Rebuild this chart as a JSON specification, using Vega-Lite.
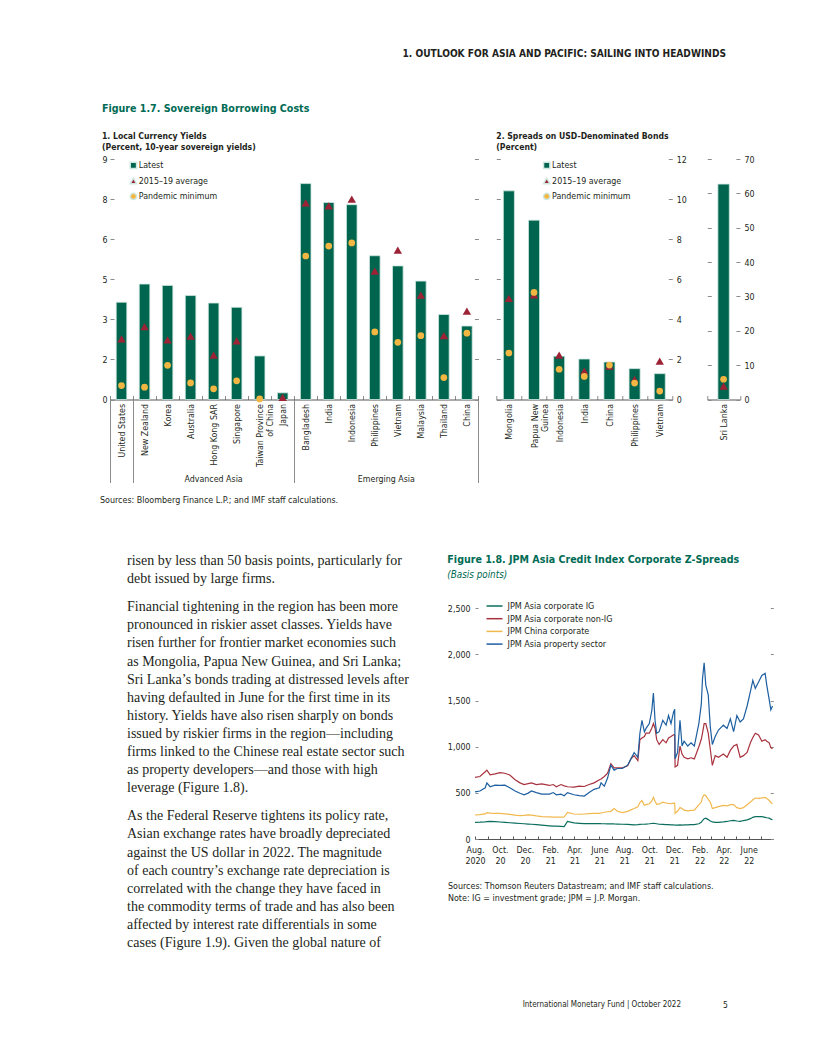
{
  "$schema": "https://vega.github.io/schema/vega-lite/v6.json",
  "padding": {"left": 100, "top": 48, "right": 10, "bottom": 10},
  "config": {
    "font": "Liberation Sans Narrow, DejaVu Sans Condensed, Liberation Sans, sans-serif",
    "view": {"stroke": null},
    "axis": {"labelFont": "Liberation Sans Narrow, DejaVu Sans Condensed, Liberation Sans, sans-serif", "labelFontSize": 8.8, "labelColor": "#231f20", "tickColor": "#8c8c8c", "tickWidth": 1, "domainColor": "#555555", "domainWidth": 1, "grid": false},
    "legend": {"labelFont": "Liberation Sans Narrow, DejaVu Sans Condensed, Liberation Sans, sans-serif", "labelFontSize": 8.8, "labelColor": "#231f20", "padding": 0, "rowPadding": 2.5, "labelOffset": 1},
    "title": {"font": "Liberation Sans Narrow, DejaVu Sans Condensed, Liberation Sans, sans-serif", "subtitleFont": "Liberation Sans Narrow, DejaVu Sans Condensed, Liberation Sans, sans-serif", "anchor": "start", "color": "#231f20", "subtitleColor": "#231f20", "fontWeight": "bold"}
  },
  "datasets": {
    "p1": [
      {"country": "United States", "Latest": 3.64, "2015–19 average": 2.27, "Pandemic minimum": 0.52},
      {"country": "New Zealand", "Latest": 4.32, "2015–19 average": 2.73, "Pandemic minimum": 0.46},
      {"country": "Korea", "Latest": 4.27, "2015–19 average": 2.23, "Pandemic minimum": 1.28},
      {"country": "Australia", "Latest": 3.89, "2015–19 average": 2.37, "Pandemic minimum": 0.62},
      {"country": "Hong Kong SAR", "Latest": 3.61, "2015–19 average": 1.66, "Pandemic minimum": 0.4},
      {"country": "Singapore", "Latest": 3.45, "2015–19 average": 2.19, "Pandemic minimum": 0.7},
      {"country": "Taiwan Province of China", "Latest": 1.63, "Pandemic minimum": 0.02},
      {"country": "Japan", "Latest": 0.25, "2015–19 average": 0.08},
      {"country": "Bangladesh", "Latest": 8.08, "2015–19 average": 7.36, "Pandemic minimum": 5.37},
      {"country": "India", "Latest": 7.37, "2015–19 average": 7.25, "Pandemic minimum": 5.74},
      {"country": "Indonesia", "Latest": 7.29, "2015–19 average": 7.5, "Pandemic minimum": 5.86},
      {"country": "Philippines", "Latest": 5.38, "2015–19 average": 4.8, "Pandemic minimum": 2.53},
      {"country": "Vietnam", "Latest": 5.0, "2015–19 average": 5.59, "Pandemic minimum": 2.14},
      {"country": "Malaysia", "Latest": 4.43, "2015–19 average": 3.91, "Pandemic minimum": 2.39},
      {"country": "Thailand", "Latest": 3.18, "2015–19 average": 2.39, "Pandemic minimum": 0.82},
      {"country": "China", "Latest": 2.75, "2015–19 average": 3.31, "Pandemic minimum": 2.48}
    ],
    "p2": [
      {"country": "Mongolia", "Latest": 10.41, "2015–19 average": 5.05, "Pandemic minimum": 2.32},
      {"country": "Papua New Guinea", "Latest": 8.95, "2015–19 average": 5.22, "Pandemic minimum": 5.34},
      {"country": "Indonesia", "Latest": 2.16, "2015–19 average": 2.22, "Pandemic minimum": 1.51},
      {"country": "India", "Latest": 2.02, "2015–19 average": 1.42, "Pandemic minimum": 1.15},
      {"country": "China", "Latest": 1.87, "2015–19 average": 1.66, "Pandemic minimum": 1.72},
      {"country": "Philippines", "Latest": 1.54, "2015–19 average": 1.0, "Pandemic minimum": 0.82},
      {"country": "Vietnam", "Latest": 1.29, "2015–19 average": 1.92, "Pandemic minimum": 0.42}
    ],
    "lk": [
      {"country": "Sri Lanka", "Latest": 62.7, "2015–19 average": 3.9, "Pandemic minimum": 5.9}
    ],
    "body": [
      {"para": 0, "line": 0, "text": "risen by less than 50 basis points, particularly for"},
      {"para": 0, "line": 1, "text": "debt issued by large firms."},
      {"para": 1, "line": 2, "text": "Financial tightening in the region has been more"},
      {"para": 1, "line": 3, "text": "pronounced in riskier asset classes. Yields have"},
      {"para": 1, "line": 4, "text": "risen further for frontier market economies such"},
      {"para": 1, "line": 5, "text": "as Mongolia, Papua New Guinea, and Sri Lanka;"},
      {"para": 1, "line": 6, "text": "Sri Lanka’s bonds trading at distressed levels after"},
      {"para": 1, "line": 7, "text": "having defaulted in June for the first time in its"},
      {"para": 1, "line": 8, "text": "history. Yields have also risen sharply on bonds"},
      {"para": 1, "line": 9, "text": "issued by riskier firms in the region—including"},
      {"para": 1, "line": 10, "text": "firms linked to the Chinese real estate sector such"},
      {"para": 1, "line": 11, "text": "as property developers—and those with high"},
      {"para": 1, "line": 12, "text": "leverage (Figure 1.8)."},
      {"para": 2, "line": 13, "text": "As the Federal Reserve tightens its policy rate,"},
      {"para": 2, "line": 14, "text": "Asian exchange rates have broadly depreciated"},
      {"para": 2, "line": 15, "text": "against the US dollar in 2022. The magnitude"},
      {"para": 2, "line": 16, "text": "of each country’s exchange rate depreciation is"},
      {"para": 2, "line": 17, "text": "correlated with the change they have faced in"},
      {"para": 2, "line": 18, "text": "the commodity terms of trade and has also been"},
      {"para": 2, "line": 19, "text": "affected by interest rate differentials in some"},
      {"para": 2, "line": 20, "text": "cases (Figure 1.9). Given the global nature of"}
    ],
    "z": [
      {"date": "2020-08-01", "IG": 180, "non-IG": 667, "China": 260, "Property": 510},
      {"date": "2020-08-13", "IG": 182, "non-IG": 677, "China": 265, "Property": 520},
      {"date": "2020-08-26", "IG": 186, "non-IG": 729, "China": 272, "Property": 555},
      {"date": "2020-08-30", "IG": 188, "non-IG": 746, "China": 285, "Property": 608},
      {"date": "2020-09-07", "IG": 191, "non-IG": 694, "China": 280, "Property": 566},
      {"date": "2020-09-19", "IG": 188, "non-IG": 705, "China": 278, "Property": 583},
      {"date": "2020-10-01", "IG": 184, "non-IG": 719, "China": 278, "Property": 580},
      {"date": "2020-10-13", "IG": 180, "non-IG": 712, "China": 272, "Property": 583},
      {"date": "2020-10-25", "IG": 176, "non-IG": 694, "China": 267, "Property": 555},
      {"date": "2020-11-07", "IG": 172, "non-IG": 642, "China": 258, "Property": 520},
      {"date": "2020-11-19", "IG": 168, "non-IG": 608, "China": 253, "Property": 495},
      {"date": "2020-11-29", "IG": 165, "non-IG": 590, "China": 256, "Property": 479},
      {"date": "2020-12-09", "IG": 162, "non-IG": 600, "China": 262, "Property": 497},
      {"date": "2020-12-17", "IG": 160, "non-IG": 608, "China": 258, "Property": 520},
      {"date": "2020-12-29", "IG": 156, "non-IG": 590, "China": 250, "Property": 503},
      {"date": "2021-01-11", "IG": 150, "non-IG": 597, "China": 243, "Property": 486},
      {"date": "2021-01-30", "IG": 142, "non-IG": 580, "China": 240, "Property": 486},
      {"date": "2021-02-08", "IG": 139, "non-IG": 590, "China": 238, "Property": 503},
      {"date": "2021-02-16", "IG": 140, "non-IG": 565, "China": 236, "Property": 479},
      {"date": "2021-02-27", "IG": 137, "non-IG": 590, "China": 236, "Property": 486},
      {"date": "2021-03-07", "IG": 135, "non-IG": 575, "China": 238, "Property": 469},
      {"date": "2021-03-15", "IG": 191, "non-IG": 566, "China": 288, "Property": 503},
      {"date": "2021-03-31", "IG": 174, "non-IG": 562, "China": 271, "Property": 479},
      {"date": "2021-04-13", "IG": 170, "non-IG": 573, "China": 268, "Property": 469},
      {"date": "2021-04-25", "IG": 167, "non-IG": 569, "China": 271, "Property": 465},
      {"date": "2021-05-07", "IG": 167, "non-IG": 590, "China": 275, "Property": 503},
      {"date": "2021-05-19", "IG": 166, "non-IG": 608, "China": 278, "Property": 538},
      {"date": "2021-06-01", "IG": 167, "non-IG": 642, "China": 278, "Property": 555},
      {"date": "2021-06-05", "IG": 166, "non-IG": 650, "China": 282, "Property": 608},
      {"date": "2021-06-13", "IG": 165, "non-IG": 677, "China": 290, "Property": 573},
      {"date": "2021-06-21", "IG": 164, "non-IG": 712, "China": 295, "Property": 660},
      {"date": "2021-06-29", "IG": 165, "non-IG": 816, "China": 300, "Property": 800},
      {"date": "2021-07-07", "IG": 163, "non-IG": 771, "China": 330, "Property": 746},
      {"date": "2021-07-15", "IG": 162, "non-IG": 771, "China": 300, "Property": 764},
      {"date": "2021-07-27", "IG": 160, "non-IG": 771, "China": 285, "Property": 764},
      {"date": "2021-08-09", "IG": 158, "non-IG": 792, "China": 300, "Property": 800},
      {"date": "2021-08-17", "IG": 156, "non-IG": 868, "China": 315, "Property": 868},
      {"date": "2021-08-25", "IG": 153, "non-IG": 903, "China": 330, "Property": 937},
      {"date": "2021-09-03", "IG": 155, "non-IG": 850, "China": 350, "Property": 885},
      {"date": "2021-09-08", "IG": 158, "non-IG": 1076, "China": 395, "Property": 1146},
      {"date": "2021-09-13", "IG": 160, "non-IG": 1094, "China": 417, "Property": 1285},
      {"date": "2021-09-19", "IG": 160, "non-IG": 1110, "China": 365, "Property": 1160},
      {"date": "2021-09-23", "IG": 162, "non-IG": 1146, "China": 372, "Property": 1198},
      {"date": "2021-10-01", "IG": 165, "non-IG": 1146, "China": 382, "Property": 1250},
      {"date": "2021-10-07", "IG": 168, "non-IG": 1200, "China": 410, "Property": 1389},
      {"date": "2021-10-11", "IG": 170, "non-IG": 1250, "China": 451, "Property": 1580},
      {"date": "2021-10-15", "IG": 168, "non-IG": 1200, "China": 410, "Property": 1285},
      {"date": "2021-10-19", "IG": 165, "non-IG": 1076, "China": 375, "Property": 1146},
      {"date": "2021-10-25", "IG": 160, "non-IG": 1024, "China": 380, "Property": 1163},
      {"date": "2021-11-03", "IG": 158, "non-IG": 1076, "China": 399, "Property": 1285},
      {"date": "2021-11-11", "IG": 156, "non-IG": 1042, "China": 390, "Property": 1233},
      {"date": "2021-11-17", "IG": 155, "non-IG": 1094, "China": 385, "Property": 1337},
      {"date": "2021-11-23", "IG": 154, "non-IG": 1110, "China": 382, "Property": 1250},
      {"date": "2021-11-29", "IG": 153, "non-IG": 1128, "China": 389, "Property": 1371},
      {"date": "2021-12-02", "IG": 152, "non-IG": 1128, "China": 389, "Property": 1406},
      {"date": "2021-12-03", "IG": 150, "non-IG": 781, "China": 278, "Property": 868},
      {"date": "2021-12-09", "IG": 150, "non-IG": 798, "China": 300, "Property": 937},
      {"date": "2021-12-15", "IG": 152, "non-IG": 1007, "China": 340, "Property": 1285},
      {"date": "2021-12-20", "IG": 151, "non-IG": 920, "China": 330, "Property": 1007},
      {"date": "2021-12-25", "IG": 152, "non-IG": 885, "China": 312, "Property": 1059},
      {"date": "2022-01-03", "IG": 153, "non-IG": 868, "China": 305, "Property": 1007},
      {"date": "2022-01-11", "IG": 155, "non-IG": 880, "China": 310, "Property": 1042},
      {"date": "2022-01-19", "IG": 156, "non-IG": 868, "China": 312, "Property": 1007},
      {"date": "2022-01-30", "IG": 165, "non-IG": 1000, "China": 370, "Property": 1250},
      {"date": "2022-02-05", "IG": 180, "non-IG": 1080, "China": 400, "Property": 1458},
      {"date": "2022-02-08", "IG": 200, "non-IG": 1146, "China": 450, "Property": 1736},
      {"date": "2022-02-12", "IG": 220, "non-IG": 1250, "China": 480, "Property": 1910},
      {"date": "2022-02-16", "IG": 226, "non-IG": 1250, "China": 470, "Property": 1667},
      {"date": "2022-02-22", "IG": 210, "non-IG": 1146, "China": 430, "Property": 1562},
      {"date": "2022-02-27", "IG": 195, "non-IG": 972, "China": 400, "Property": 1215},
      {"date": "2022-03-04", "IG": 185, "non-IG": 798, "China": 330, "Property": 1024},
      {"date": "2022-03-11", "IG": 180, "non-IG": 903, "China": 340, "Property": 1111},
      {"date": "2022-03-19", "IG": 180, "non-IG": 885, "China": 350, "Property": 1180},
      {"date": "2022-03-31", "IG": 185, "non-IG": 920, "China": 365, "Property": 1233},
      {"date": "2022-04-09", "IG": 190, "non-IG": 885, "China": 360, "Property": 1198},
      {"date": "2022-04-17", "IG": 198, "non-IG": 960, "China": 372, "Property": 1302},
      {"date": "2022-04-25", "IG": 201, "non-IG": 1007, "China": 372, "Property": 1163},
      {"date": "2022-05-03", "IG": 195, "non-IG": 1024, "China": 340, "Property": 1337},
      {"date": "2022-05-11", "IG": 191, "non-IG": 885, "China": 330, "Property": 1267},
      {"date": "2022-05-19", "IG": 200, "non-IG": 903, "China": 340, "Property": 1302},
      {"date": "2022-05-28", "IG": 208, "non-IG": 937, "China": 372, "Property": 1441},
      {"date": "2022-06-05", "IG": 220, "non-IG": 1042, "China": 400, "Property": 1597},
      {"date": "2022-06-11", "IG": 235, "non-IG": 1100, "China": 425, "Property": 1719},
      {"date": "2022-06-17", "IG": 243, "non-IG": 1146, "China": 444, "Property": 1632},
      {"date": "2022-06-25", "IG": 243, "non-IG": 1128, "China": 440, "Property": 1701},
      {"date": "2022-07-03", "IG": 243, "non-IG": 1059, "China": 445, "Property": 1771},
      {"date": "2022-07-11", "IG": 235, "non-IG": 1076, "China": 451, "Property": 1795},
      {"date": "2022-07-15", "IG": 230, "non-IG": 1060, "China": 440, "Property": 1667},
      {"date": "2022-07-21", "IG": 226, "non-IG": 1042, "China": 417, "Property": 1510},
      {"date": "2022-07-25", "IG": 215, "non-IG": 990, "China": 395, "Property": 1399},
      {"date": "2022-07-29", "IG": 208, "non-IG": 979, "China": 382, "Property": 1441}
    ]
  },
  "spacing": 12,
  "resolve": {"scale": {"color": "independent", "shape": "independent"}},
  "vconcat": [
    {
      "width": 616, "height": 33,
      "data": {"values": []},
      "mark": "point",
      "title": {"text": "1. OUTLOOK FOR ASIA AND PACIFIC: SAILING INTO HEADWINDS", "anchor": "end", "frame": "group", "fontSize": 10.1, "fontWeight": "bold", "offset": 0}
    },
    {
      "title": {"text": "Figure 1.7. Sovereign Borrowing Costs", "fontSize": 10.6, "color": "#006b54", "offset": 17},
      "spacing": 13.3,
      "resolve": {"scale": {"color": "independent", "shape": "independent"}},
      "hconcat": [
        {
          "width": 368.4, "height": 240.5,
          "title": {"text": "1. Local Currency Yields", "subtitle": "\u00a0\u00a0\u00a0\u00a0\u00a0(Percent, 10-year sovereign yields)", "fontSize": 8.6, "subtitleFontSize": 8.6, "subtitleFontWeight": "bold", "subtitlePadding": 3.1, "offset": 3},
          "data": {"name": "p1"},
          "transform": [
            {"fold": ["Latest", "2015–19 average", "Pandemic minimum"], "as": ["measure", "value"]},
            {"filter": "isValid(datum.value)"}
          ],
          "layer": [
            {
              "transform": [{"filter": "datum.measure == 'Latest'"}],
              "mark": {"type": "bar", "width": {"band": 0.46}, "stroke": "#cfe7e0", "strokeWidth": 0.8},
              "encoding": {
                "x": {"field": "country", "type": "nominal", "scale": {"domain": ["United States", "New Zealand", "Korea", "Australia", "Hong Kong SAR", "Singapore", "Taiwan Province of China", "Japan", "Bangladesh", "India", "Indonesia", "Philippines", "Vietnam", "Malaysia", "Thailand", "China"], "paddingInner": 0, "paddingOuter": 0},
                  "axis": {"orient": "bottom", "tickBand": "extent", "tickSize": -4, "labelAngle": -90, "labelAlign": "right", "labelBaseline": "middle", "labelPadding": 8, "labelLineHeight": 10, "labelOverlap": false, "title": null,
                    "labelExpr": "datum.value == 'Taiwan Province of China' ? ['Taiwan Province', 'of China'] : datum.value"}},
                "y": {"field": "value", "type": "quantitative", "scale": {"domain": [0, 9]},
                  "axis": {"orient": "left", "values": [0, 1.5, 3, 4.5, 6, 7.5, 9], "format": "d", "tickSize": -4, "labelPadding": 7, "domain": false, "title": null}},
                "color": {"field": "measure", "type": "nominal", "scale": {"domain": ["Latest", "2015–19 average", "Pandemic minimum"], "range": ["#00654f", "#9b2335", "#f2b642"]},
                  "legend": {"title": null, "orient": "none", "legendX": 19, "legendY": 2, "symbolSize": 40}}
              }
            },
            {
              "transform": [{"filter": "datum.measure == '2015–19 average'"}],
              "mark": {"type": "point", "filled": true, "opacity": 1, "size": 70},
              "encoding": {
                "x": {"field": "country", "type": "nominal",
                  "axis": {"orient": "bottom", "tickBand": "extent", "values": ["United States", "Japan", "China"], "tickSize": 83, "labels": false, "domain": false, "title": null}},
                "y": {"field": "value", "type": "quantitative",
                  "axis": {"orient": "right", "values": [0, 1.5, 3, 4.5, 6, 7.5, 9], "labels": false, "tickSize": -4, "domain": false, "title": null}},
                "color": {"field": "measure", "type": "nominal", "scale": {"domain": ["Latest", "2015–19 average", "Pandemic minimum"], "range": ["#00654f", "#9b2335", "#f2b642"]},
                  "legend": {"title": null, "orient": "none", "legendX": 19, "legendY": 2, "symbolSize": 40}},
                "shape": {"field": "measure", "type": "nominal", "scale": {"domain": ["Latest", "2015–19 average", "Pandemic minimum"], "range": ["square", "triangle-up", "circle"]},
                  "legend": {"title": null, "orient": "none", "legendX": 19, "legendY": 2, "symbolSize": 40}}
              }
            },
            {
              "transform": [{"filter": "datum.measure == 'Pandemic minimum'"}],
              "mark": {"type": "point", "filled": true, "opacity": 1, "size": 45},
              "encoding": {
                "x": {"field": "country", "type": "nominal",
                  "axis": {"orient": "bottom", "values": ["Hong Kong SAR", "Vietnam"], "ticks": false, "domain": false, "labelAngle": 0, "labelAlign": "center", "labelBaseline": "top", "labelPadding": 75, "title": null, "labelOverlap": false,
                    "labelExpr": "datum.value == 'Vietnam' ? 'Emerging Asia' : 'Advanced Asia'",
                    "labelOffset": {"condition": {"test": "datum.value == 'Vietnam'", "value": -11.5}, "value": 0}}},
                "y": {"field": "value", "type": "quantitative", "axis": null},
                "color": {"field": "measure", "type": "nominal", "scale": {"domain": ["Latest", "2015–19 average", "Pandemic minimum"], "range": ["#00654f", "#9b2335", "#f2b642"]},
                  "legend": {"title": null, "orient": "none", "legendX": 19, "legendY": 2, "symbolSize": 40}},
                "shape": {"field": "measure", "type": "nominal", "scale": {"domain": ["Latest", "2015–19 average", "Pandemic minimum"], "range": ["square", "triangle-up", "circle"]},
                  "legend": {"title": null, "orient": "none", "legendX": 19, "legendY": 2, "symbolSize": 40}}
              }
            }
          ],
          "resolve": {"axis": {"x": "independent", "y": "independent"}}
        },
        {
          "title": {"text": "2. Spreads on USD-Denominated Bonds", "subtitle": "\u00a0\u00a0\u00a0\u00a0(Percent)", "fontSize": 8.6, "subtitleFontSize": 8.6, "subtitleFontWeight": "bold", "subtitlePadding": 3.1, "offset": 3, "dx": 4},
          "spacing": 16,
          "resolve": {"scale": {"color": "independent", "shape": "independent"}},
          "hconcat": [
            {
              "width": 176, "height": 240.5,
              "data": {"name": "p2"},
              "transform": [
                {"fold": ["Latest", "2015–19 average", "Pandemic minimum"], "as": ["measure", "value"]},
                {"filter": "isValid(datum.value)"}
              ],
              "layer": [
                {
                  "transform": [{"filter": "datum.measure == 'Latest'"}],
                  "mark": {"type": "bar", "width": {"band": 0.44}, "stroke": "#cfe7e0", "strokeWidth": 0.8},
                  "encoding": {
                    "x": {"field": "country", "type": "nominal", "scale": {"domain": ["Mongolia", "Papua New Guinea", "Indonesia", "India", "China", "Philippines", "Vietnam"], "paddingInner": 0, "paddingOuter": 0},
                      "axis": {"orient": "bottom", "tickBand": "extent", "tickSize": -4, "labelAngle": -90, "labelAlign": "right", "labelBaseline": "middle", "labelPadding": 8, "labelLineHeight": 10, "labelOverlap": false, "title": null,
                        "labelExpr": "datum.value == 'Papua New Guinea' ? ['Papua New', 'Guinea'] : datum.value"}},
                    "y": {"field": "value", "type": "quantitative", "scale": {"domain": [0, 12]},
                      "axis": {"orient": "right", "values": [0, 2, 4, 6, 8, 10, 12], "tickSize": -4, "labelPadding": 8, "domain": false, "title": null}},
                    "color": {"field": "measure", "type": "nominal", "scale": {"domain": ["Latest", "2015–19 average", "Pandemic minimum"], "range": ["#00654f", "#9b2335", "#f2b642"]},
                      "legend": {"title": null, "orient": "none", "legendX": 46, "legendY": 2, "symbolSize": 40}}
                  }
                },
                {
                  "transform": [{"filter": "datum.measure == '2015–19 average'"}],
                  "mark": {"type": "point", "filled": true, "opacity": 1, "size": 70},
                  "encoding": {
                    "x": {"field": "country", "type": "nominal", "axis": null},
                    "y": {"field": "value", "type": "quantitative",
                      "axis": {"orient": "left", "values": [0, 2, 4, 6, 8, 10, 12], "labels": false, "tickSize": -4, "domain": false, "title": null}},
                    "color": {"field": "measure", "type": "nominal", "scale": {"domain": ["Latest", "2015–19 average", "Pandemic minimum"], "range": ["#00654f", "#9b2335", "#f2b642"]},
                      "legend": {"title": null, "orient": "none", "legendX": 46, "legendY": 2, "symbolSize": 40}},
                    "shape": {"field": "measure", "type": "nominal", "scale": {"domain": ["Latest", "2015–19 average", "Pandemic minimum"], "range": ["square", "triangle-up", "circle"]},
                      "legend": {"title": null, "orient": "none", "legendX": 46, "legendY": 2, "symbolSize": 40}}
                  }
                },
                {
                  "transform": [{"filter": "datum.measure == 'Pandemic minimum'"}],
                  "mark": {"type": "point", "filled": true, "opacity": 1, "size": 45},
                  "encoding": {
                    "x": {"field": "country", "type": "nominal", "axis": null},
                    "y": {"field": "value", "type": "quantitative", "axis": null},
                    "color": {"field": "measure", "type": "nominal", "scale": {"domain": ["Latest", "2015–19 average", "Pandemic minimum"], "range": ["#00654f", "#9b2335", "#f2b642"]},
                      "legend": {"title": null, "orient": "none", "legendX": 46, "legendY": 2, "symbolSize": 40}},
                    "shape": {"field": "measure", "type": "nominal", "scale": {"domain": ["Latest", "2015–19 average", "Pandemic minimum"], "range": ["square", "triangle-up", "circle"]},
                      "legend": {"title": null, "orient": "none", "legendX": 46, "legendY": 2, "symbolSize": 40}}
                  }
                }
              ],
              "resolve": {"axis": {"x": "independent", "y": "independent"}}
            },
            {
              "width": 32.6, "height": 240.5,
              "data": {"name": "lk"},
              "transform": [
                {"fold": ["Latest", "2015–19 average", "Pandemic minimum"], "as": ["measure", "value"]},
                {"filter": "isValid(datum.value)"}
              ],
              "layer": [
                {
                  "transform": [{"filter": "datum.measure == 'Latest'"}],
                  "mark": {"type": "bar", "width": {"band": 0.35}, "stroke": "#cfe7e0", "strokeWidth": 0.8},
                  "encoding": {
                    "x": {"field": "country", "type": "nominal", "scale": {"paddingInner": 0, "paddingOuter": 0},
                      "axis": {"orient": "bottom", "tickBand": "extent", "tickSize": -4, "labelAngle": -90, "labelAlign": "right", "labelBaseline": "middle", "labelPadding": 8, "title": null}},
                    "y": {"field": "value", "type": "quantitative", "scale": {"domain": [0, 70]},
                      "axis": {"orient": "right", "values": [0, 10, 20, 30, 40, 50, 60, 70], "tickSize": -4, "labelPadding": 8, "domain": false, "title": null}},
                    "color": {"field": "measure", "type": "nominal", "scale": {"domain": ["Latest", "2015–19 average", "Pandemic minimum"], "range": ["#00654f", "#9b2335", "#f2b642"]}, "legend": null}
                  }
                },
                {
                  "transform": [{"filter": "datum.measure == '2015–19 average'"}],
                  "mark": {"type": "point", "filled": true, "opacity": 1, "size": 70},
                  "encoding": {
                    "x": {"field": "country", "type": "nominal", "axis": null},
                    "y": {"field": "value", "type": "quantitative",
                      "axis": {"orient": "left", "values": [0, 10, 20, 30, 40, 50, 60, 70], "labels": false, "tickSize": -4, "domain": false, "title": null}},
                    "color": {"field": "measure", "type": "nominal", "scale": {"domain": ["Latest", "2015–19 average", "Pandemic minimum"], "range": ["#00654f", "#9b2335", "#f2b642"]}, "legend": null},
                    "shape": {"field": "measure", "type": "nominal", "scale": {"domain": ["Latest", "2015–19 average", "Pandemic minimum"], "range": ["square", "triangle-up", "circle"]}, "legend": null}
                  }
                },
                {
                  "transform": [{"filter": "datum.measure == 'Pandemic minimum'"}],
                  "mark": {"type": "point", "filled": true, "opacity": 1, "size": 45},
                  "encoding": {
                    "x": {"field": "country", "type": "nominal", "axis": null},
                    "y": {"field": "value", "type": "quantitative", "axis": null},
                    "color": {"field": "measure", "type": "nominal", "scale": {"domain": ["Latest", "2015–19 average", "Pandemic minimum"], "range": ["#00654f", "#9b2335", "#f2b642"]}, "legend": null},
                    "shape": {"field": "measure", "type": "nominal", "scale": {"domain": ["Latest", "2015–19 average", "Pandemic minimum"], "range": ["square", "triangle-up", "circle"]}, "legend": null}
                  }
                }
              ],
              "resolve": {"axis": {"x": "independent", "y": "independent"}}
            }
          ]
        }
      ]
    },
    {
      "width": 300, "height": 37,
      "data": {"values": []},
      "mark": "point",
      "title": {"text": "Sources: Bloomberg Finance L.P.; and IMF staff calculations.", "fontSize": 8.9, "fontWeight": "normal", "offset": 0, "frame": "group", "dx": -10}
    },
    {
      "spacing": 27,
      "resolve": {"scale": {"color": "independent", "shape": "independent"}},
      "hconcat": [
        {
          "width": 310, "height": 362,
          "data": {"name": "body"},
          "mark": {"type": "text", "align": "left", "baseline": "alphabetic", "font": "Liberation Serif", "fontSize": 14, "color": "#231f20", "dx": 17},
          "encoding": {
            "x": {"datum": 0, "type": "quantitative", "scale": {"domain": [0, 1]}, "axis": null},
            "y": {"field": "line", "type": "ordinal", "scale": {"type": "point", "padding": 0}, "axis": null},
            "yOffset": {"field": "para", "type": "quantitative", "scale": {"domain": [0, 2], "range": [-34, -14]}},
            "text": {"field": "text"}
          }
        },
        {
          "spacing": 17,
          "vconcat": [
            {
              "width": 298.3, "height": 240,
              "title": {"text": "Figure 1.8. JPM Asia Credit Index Corporate Z-Spreads", "subtitle": "(Basis points)", "fontSize": 10.6, "color": "#006b54", "subtitleColor": "#006b54", "subtitleFontStyle": "italic", "subtitleFontSize": 9.8, "subtitlePadding": 4.5, "offset": 19.5},
              "data": {"name": "z"},
              "transform": [{"fold": ["IG", "non-IG", "China", "Property"], "as": ["series", "value"]}],
              "encoding": {
                "x": {"field": "date", "type": "temporal",
                  "scale": {"domain": [{"year": 2020, "month": 8, "date": 1}, {"year": 2022, "month": 7, "date": 31}]},
                  "axis": {"values": [
                    {"year": 2020, "month": 8, "date": 1}, {"year": 2020, "month": 9, "date": 1}, {"year": 2020, "month": 10, "date": 1}, {"year": 2020, "month": 11, "date": 1}, {"year": 2020, "month": 12, "date": 1},
                    {"year": 2021, "month": 1, "date": 1}, {"year": 2021, "month": 2, "date": 1}, {"year": 2021, "month": 3, "date": 1}, {"year": 2021, "month": 4, "date": 1}, {"year": 2021, "month": 5, "date": 1}, {"year": 2021, "month": 6, "date": 1},
                    {"year": 2021, "month": 7, "date": 1}, {"year": 2021, "month": 8, "date": 1}, {"year": 2021, "month": 9, "date": 1}, {"year": 2021, "month": 10, "date": 1}, {"year": 2021, "month": 11, "date": 1}, {"year": 2021, "month": 12, "date": 1},
                    {"year": 2022, "month": 1, "date": 1}, {"year": 2022, "month": 2, "date": 1}, {"year": 2022, "month": 3, "date": 1}, {"year": 2022, "month": 4, "date": 1}, {"year": 2022, "month": 5, "date": 1}, {"year": 2022, "month": 6, "date": 1}, {"year": 2022, "month": 7, "date": 1}],
                    "tickSize": -3, "tickColor": "#555555", "labelAngle": 0, "labelAlign": "center", "labelBaseline": "top", "labelPadding": 9, "labelLineHeight": 11, "labelFlush": false, "labelOverlap": false, "title": null,
                    "labelExpr": "month(datum.value) % 2 == 1 ? [['Jan.','Feb.','Mar.','Apr.','May','June','July','Aug.','Sep.','Oct.','Nov.','Dec.'][month(datum.value)], datum.index == 0 ? '2020' : timeFormat(datum.value, '%y')] : ''"}},
                "color": {"field": "series", "type": "nominal",
                  "scale": {"domain": ["IG", "non-IG", "China", "Property"], "range": ["#0b6e5e", "#a8323e", "#f1b84d", "#1d5fa0"]},
                  "legend": {"title": null, "orient": "none", "legendX": 14.5, "legendY": 2, "symbolType": "M-2,0H2", "symbolSize": 64, "symbolStrokeWidth": 1.5, "labelFontSize": 9, "rowPadding": 2.7, "labelOffset": 8,
                    "labelExpr": "datum.label == 'IG' ? 'JPM Asia corporate IG' : datum.label == 'non-IG' ? 'JPM Asia corporate non-IG' : datum.label == 'China' ? 'JPM China corporate' : 'JPM Asia property sector'"}}
              },
              "layer": [
                {
                  "transform": [{"filter": "datum.series != 'Property'"}],
                  "mark": {"type": "line", "strokeWidth": 1.2},
                  "encoding": {
                    "y": {"field": "value", "type": "quantitative", "scale": {"domain": [0, 2500]},
                      "axis": {"orient": "left", "values": [0, 500, 1000, 1500, 2000, 2500], "format": ",.0f", "tickSize": -3, "labelPadding": 8, "domain": false, "title": null}}
                  }
                },
                {
                  "transform": [{"filter": "datum.series == 'Property'"}],
                  "mark": {"type": "line", "strokeWidth": 1.2},
                  "encoding": {
                    "y": {"field": "value", "type": "quantitative",
                      "axis": {"orient": "right", "values": [0, 500, 1000, 1500, 2000, 2500], "labels": false, "tickSize": -3, "domain": false, "title": null}}
                  }
                }
              ],
              "resolve": {"axis": {"y": "independent"}}
            },
            {
              "width": 300, "height": 1,
              "data": {"values": []},
              "mark": "point",
              "title": {"text": ["Sources: Thomson Reuters Datastream; and IMF staff calculations.", "Note: IG = investment grade; JPM = J.P. Morgan."], "lineHeight": 12, "fontSize": 8.9, "fontWeight": "normal", "offset": 0, "frame": "group", "dx": -27}
            }
          ]
        }
      ]
    },
    {
      "spacing": 42,
      "hconcat": [
        {
          "width": 571, "height": 28,
          "data": {"values": []},
          "mark": "point",
          "title": {"text": "International Monetary Fund | October 2022", "orient": "bottom", "anchor": "end", "frame": "group", "fontSize": 8, "fontWeight": "normal", "offset": 0}
        },
        {
          "width": 1, "height": 28,
          "data": {"values": []},
          "mark": "point",
          "title": {"text": "5", "orient": "bottom", "anchor": "start", "frame": "group", "fontSize": 8.5, "fontWeight": "normal", "offset": 0}
        }
      ]
    }
  ]
}
